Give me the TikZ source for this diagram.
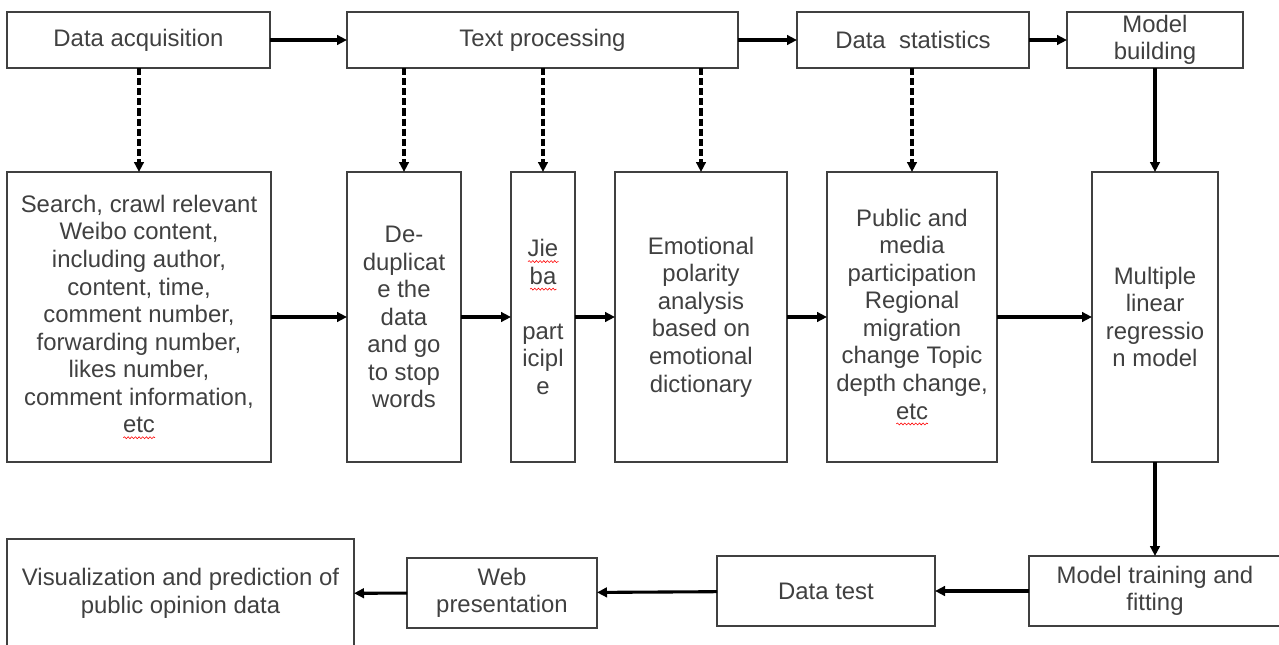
\documentclass[tikz,border=0pt]{standalone}
\usepackage{fontspec}
\setmainfont{Liberation Sans}
\usetikzlibrary{arrows.meta,decorations.pathmorphing}

\definecolor{boxgray}{RGB}{64,64,64}
\definecolor{textgray}{RGB}{64,64,64}

\newcommand{\topy}{-1.0}
\newcommand{\midy}{-7.925}
\newcommand{\boty}{-14.775}
\newcommand{\topheight}{1.4cm}
\newcommand{\midheight}{7.25cm}
\newcommand{\botheight}{1.75cm}

% red spell-check wave under a word
\newsavebox{\spellbox}
\newcommand{\spellmark}[1]{\leavevmode\sbox{\spellbox}{#1}\rlap{\raisebox{-3.5pt}{\tikz[baseline=0pt]\draw[red,line width=0.4pt,decorate,decoration={snake,amplitude=0.7pt,segment length=2.6pt}] (0,0) -- (\wd\spellbox,0);}}\usebox{\spellbox}}

\begin{document}
\begin{tikzpicture}[]
\tikzstyle{box}=[draw=boxgray,line width=0.9pt,text=textgray,inner sep=0pt,outer sep=0pt,align=center,font=\fontsize{17}{19.6}\selectfont]
\tikzstyle{arrow}=[line width=2.2pt,-{Triangle[length=0.25cm,width=0.24cm]}]
\tikzstyle{dasharrow}=[arrow,dash pattern=on 5pt off 2.2pt]

\clip (0,0) rectangle (31.975,-16.1);

% top row
\node(acq) [box, minimum width=6.575cm, minimum height=\topheight] at (3.4625,\topy) {Data acquisition};
\node(textproc) [box, minimum width=9.775cm, minimum height=\topheight] at (13.5625,\topy) {Text processing};
\node(stats) [box, minimum width=5.8cm, minimum height=\topheight] at (22.825,\topy) {Data\ \ statistics};
\node(model) [box, minimum width=4.4cm, minimum height=\topheight] at (28.875,\topy) {Model\\building};

% middle row
\node(search) [box, minimum width=6.6cm, minimum height=\midheight] at (3.475,\midy) {Search, crawl relevant\\Weibo content,\\including author,\\content, time,\\comment number,\\forwarding number,\\likes number,\\comment information,\\\spellmark{etc}};
\node(dedup) [box, minimum width=2.85cm, minimum height=\midheight] at (10.1,\midy) {De-\\duplicat\\e the\\data\\and go\\to stop\\words};
\node(jieba) [box, minimum width=1.6cm, minimum height=\midheight] at (13.575,\midy) {\spellmark{Jie}\\\spellmark{ba}\\\mbox{}\\part\\icipl\\e};
\node(emotion) [box, minimum width=4.3cm, minimum height=\midheight] at (17.525,\midy) {Emotional\\polarity\\analysis\\based on\\emotional\\dictionary};
\node(public) [box, minimum width=4.25cm, minimum height=\midheight] at (22.8,\midy) {Public and\\media\\participation\\Regional\\migration\\change Topic\\depth change,\\\spellmark{etc}};
\node(multiple) [box, minimum width=3.15cm, minimum height=\midheight] at (28.875,\midy) {Multiple\\linear\\regressio\\n model};

% bottom row
\node(training) [box, minimum width=6.3cm, minimum height=\botheight] at (28.875,\boty) {Model training and\\fitting};
\node(datatest) [box, minimum width=5.45cm, minimum height=\botheight] at (20.65,\boty) {Data test};
\node(web) [box, minimum width=4.75cm, minimum height=\botheight] at (12.55,-14.825) {Web\\presentation};
\node(vis) [box, minimum width=8.675cm, minimum height=2.725cm] at (4.5125,-14.8375) {Visualization and prediction of\\public opinion data};

\draw[arrow] (acq) -- (textproc);
\draw[arrow] (textproc) -- (stats);
\draw[arrow] (stats) -- (model);

\draw[dasharrow] (search.north |- acq.south) -- (search.north);
\draw[dasharrow] (dedup.north |- textproc.south) -- (dedup.north);
\draw[dasharrow] (jieba.north |- textproc.south) -- (jieba.north);
\draw[dasharrow] (emotion.north |- textproc.south) -- (emotion.north);
\draw[dasharrow] (public.north |- stats.south) -- (public.north);
\draw[arrow] (model) -- (multiple);

\draw[arrow] (search) -- (dedup);
\draw[arrow] (dedup) -- (jieba);
\draw[arrow] (jieba) -- (emotion);
\draw[arrow] (emotion) -- (public);
\draw[arrow] (public) -- (multiple);

\draw[arrow] (multiple) -- (training);
\draw[arrow] (training) -- (datatest);
\draw[arrow] (datatest) -- (web);
\draw[arrow] (web) -- (vis);

\end{tikzpicture}
\end{document}
